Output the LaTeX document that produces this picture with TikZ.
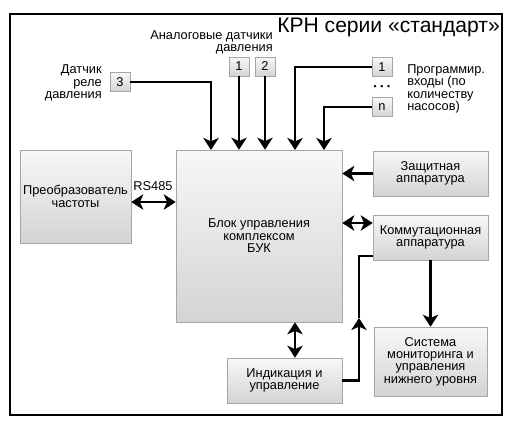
\documentclass[tikz,border=0pt]{standalone}
\usepackage{fontspec}
\setmainfont{Liberation Sans}
\usetikzlibrary{arrows.meta}
\newcommand\myfont{\fontsize{9.6pt}{9.3pt}\selectfont}
\begin{document}
\begin{tikzpicture}[x=0.75pt,y=-0.75pt,
  box/.style={draw=black!35, top color=black!3, bottom color=black!17, inner sep=1pt, align=center, font=\myfont},
  sbox/.style={box, minimum width=15pt, minimum height=14.25pt},
  lnk/.style={line width=2.2pt},
  tip/.tip={Stealth[length=9pt,width=11.5pt,inset=2.5pt]},
  arr/.style={lnk, -tip},
  darr/.style={lnk, tip-tip},
  lbl/.style={font=\myfont, inner sep=0pt}
]
\useasboundingbox (0,0) rectangle (514,430);
\draw[line width=0.9pt] (10,14) rectangle (502,415);

\node[anchor=east, inner sep=0pt, font=\fontsize{15.8pt}{18pt}\selectfont] (title) at (500,27) {КРН серии «стандарт»};

% main boxes
\node[box, minimum width=83.25pt, minimum height=69.75pt] (conv) at (75.5,196.5) {Преобразователь\\частоты};
\node[box, minimum width=124.5pt, minimum height=129pt] (buk) at (259,236) {Блок управления\\комплексом\\БУК};
\node[box, minimum width=86.25pt, minimum height=33.75pt] (zash) at (430.5,173.5) {Защитная\\аппаратура};
\node[box, minimum width=86.25pt, minimum height=33.75pt] (komm) at (430.5,237.5) {Коммутационная\\аппаратура};
\node[box, minimum width=84.75pt, minimum height=51.75pt] (sys) at (430.5,361.5) {Система\\мониторинга и\\управления\\нижнего уровня};
\node[box, minimum width=86.25pt, minimum height=33.75pt] (ind) at (284.5,380.5) {Индикация и\\управление};

% small input boxes
\node[sbox] (s3) at (120,82) {3};
\node[sbox] (a1) at (239,66.5) {1};
\node[sbox] (a2) at (265,66.5) {2};
\node[sbox] (p1) at (382,67) {1};
\node[sbox] (pn) at (382,107) {n};
\node[inner sep=0pt, font=\fontsize{6.5pt}{6.5pt}\selectfont] (dots) at (382,87) {•\hspace{2.8pt}•\hspace{2.8pt}•};

% labels
\node[lbl, anchor=east, align=right] (alab) at (273,42.5) {Аналоговые датчики\\давления};
\node[lbl, anchor=east, align=right] (dlab) at (102,83) {Датчик\\реле\\давления};
\node[lbl, anchor=west, align=left] (plab) at (407,89) {Программир.\\входы (по\\количеству\\насосов)};
\node[lbl] (rs485) at (153,186) {RS485};

% helper coordinates
\coordinate (t3) at (211,150);
\coordinate (tp1) at (295,150);
\coordinate (tpn) at (324,150);
\coordinate (rs) at (150,202);
\coordinate (k) at (350,223);
\coordinate (bi) at (295,340);
\coordinate (up) at (359,318);
\coordinate (kin) at (373,256);

% connectors
\draw[arr] (s3.east) -| (t3);
\draw[arr] (a1.south) -- (a1.south |- buk.north);
\draw[arr] (a2.south) -- (a2.south |- buk.north);
\draw[arr] (p1.west) -| (tp1);
\draw[arr] (pn.west) -| (tpn);
\draw[darr] (conv.east |- rs) -- (buk.west |- rs);
\draw[arr] (zash.west) -- (buk.east |- zash.west);
\draw[darr] (komm.west |- k) -- (buk.east |- k);
\draw[arr] (komm.south) -- (sys.north);
\draw[darr] (buk.south -| bi) -- (ind.north -| bi);
\draw[arr] (ind.east) -| (up);
\draw[lnk] (up) |- (komm.west |- kin);
\end{tikzpicture}
\end{document}
